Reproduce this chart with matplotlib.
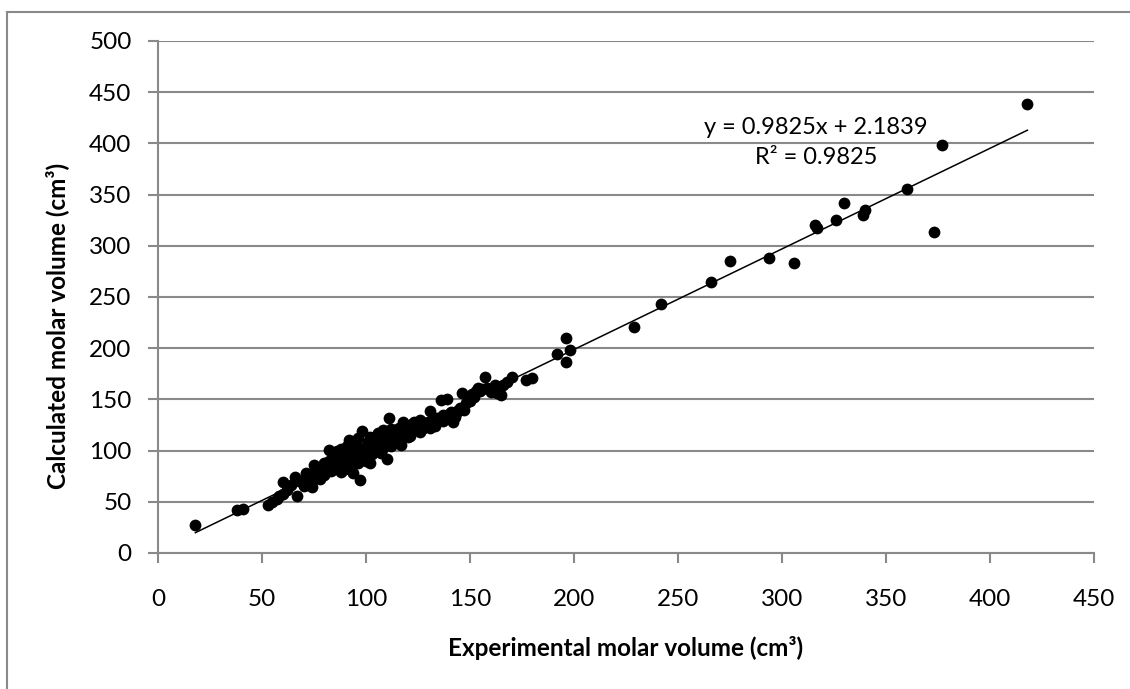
#!/usr/bin/env python3
"""Scatter of calculated vs experimental molar volume with linear trend line."""

import numpy as np
import matplotlib.pyplot as plt
from matplotlib.lines import Line2D

# experimental / calculated molar volume (cm3)
exp_vol = [
    18, 38, 41, 53, 55, 57, 58, 60, 60, 62, 64, 66, 67, 68, 70, 71, 72, 73, 74,
    75, 76, 77, 78, 79, 80, 80, 81, 82, 82, 83, 84, 85, 85, 86, 86, 87, 87, 88,
    88, 89, 89, 90, 90, 91, 91, 92, 92, 93, 93, 94, 94, 95, 95, 96, 96, 97, 97,
    98, 98, 99, 100, 100, 101, 101, 102, 102, 103, 103, 104, 104, 105, 105, 106,
    106, 107, 107, 108, 108, 109, 110, 110, 111, 111, 112, 112, 113, 113, 114,
    115, 115, 116, 116, 117, 117, 118, 118, 119, 120, 120, 121, 122, 122, 123,
    124, 125, 126, 127, 128, 129, 130, 131, 131, 132, 133, 134, 135, 136, 137,
    138, 139, 140, 141, 142, 143, 144, 145, 146, 147, 148, 149, 150, 151, 152,
    153, 154, 155, 156, 157, 158, 159, 160, 162, 163, 164, 165, 166, 168, 170,
    177, 180, 192, 196, 196, 198, 229, 242, 266, 275, 294, 306, 316, 317, 326,
    330, 339, 340, 360, 373, 377, 418,
    # extra points filling the dense band
    74, 78, 83, 88, 92, 95, 99, 103, 107, 112, 116, 121, 126, 133, 137, 142,
]
calc_vol = [
    27, 42, 43, 47, 50, 53, 56, 58, 69, 62, 66, 74, 56, 70, 65, 78, 72, 76, 70,
    86, 80, 74, 83, 79, 88, 76, 84, 101, 90, 80, 86, 93, 82, 89, 100, 84, 96, 102,
    91, 87, 98, 94, 82, 88, 104, 110, 96, 108, 85, 78, 100, 92, 105, 88, 112, 71, 99,
    119, 95, 103, 99, 90, 108, 94, 88, 113, 101, 97, 110, 106, 114, 100, 104,
    117, 109, 112, 120, 103, 115, 92, 108, 132, 118, 111, 121, 114, 107, 120,
    110, 116, 113, 122, 105, 119, 128, 116, 123, 113, 120, 117, 126, 119, 128,
    122, 125, 130, 121, 126, 124, 128, 139, 122, 130, 127, 132, 130, 149, 135,
    131, 150, 136, 138, 128, 133, 138, 142, 156, 140, 146, 151, 148, 155, 152,
    158, 161, 158, 160, 172, 161, 160, 157, 164, 156, 161, 154, 164, 167, 172,
    169, 171, 194, 210, 187, 198, 221, 243, 265, 285, 288, 283, 320, 317, 325,
    342, 330, 335, 355, 313, 398, 438,
    64, 72, 90, 79, 84, 97, 92, 108, 98, 104, 109, 114, 118, 124, 129, 135,
]

slope = 0.9825
intercept = 2.1839
r2 = 0.9825

x_ticks = np.arange(0, 451, 50)
y_ticks = np.arange(0, 501, 50)

plt.rcParams['font.family'] = ['Lato', 'DejaVu Sans']
grey = '#898989'

fig = plt.figure(figsize=(11.3, 6.89), dpi=100)
ax = fig.add_axes([0.1398, 0.1974, 0.8283, 0.7431])

ax.scatter(exp_vol, calc_vol, s=72, color='black', zorder=3, linewidths=0)

# trend line over the data range
xs = np.array([min(exp_vol), max(exp_vol)])
ax.plot(xs, slope * xs + intercept, color='black', lw=1.1, zorder=4)

ax.set_xlim(0, 450)
ax.set_ylim(0, 500)
ax.set_xticks(x_ticks)
ax.set_yticks(y_ticks)
ax.grid(axis='y', color=grey, lw=1.5)
ax.set_axisbelow(True)

for side in ('top', 'right'):
    ax.spines[side].set_visible(False)
for side in ('left', 'bottom'):
    ax.spines[side].set_color(grey)
    ax.spines[side].set_linewidth(1.5)

ax.tick_params(axis='both', direction='out', length=7, width=1.5,
               color=grey, labelsize=17.5)
ax.tick_params(axis='x', pad=19)
ax.tick_params(axis='y', pad=12)

ax.text(816 / 1130, 1 - 127 / 689, f'y = {slope}x + {intercept}',
        transform=fig.transFigure, ha='center', va='center', fontsize=17)
ax.text(816 / 1130, 1 - 157 / 689, f'R² = {r2}',
        transform=fig.transFigure, ha='center', va='center', fontsize=17)

fig.text(626 / 1130, 1 - 648 / 689, 'Experimental molar volume (cm³)',
         ha='center', va='center', fontsize=17.5, fontweight='bold')
fig.text(57 / 1130, 1 - 326 / 689, 'Calculated molar volume (cm³)',
         ha='center', va='center', rotation=90, fontsize=17.5,
         fontweight='bold')

# chart area border (left and top edges visible)
fig.add_artist(Line2D([7 / 1130, 7 / 1130], [0, 1 - 12 / 689],
                      transform=fig.transFigure, color=grey, lw=1.5))
fig.add_artist(Line2D([7 / 1130, 1], [1 - 12 / 689, 1 - 12 / 689],
                      transform=fig.transFigure, color=grey, lw=1.5))

fig.savefig('out.png', dpi=100)
